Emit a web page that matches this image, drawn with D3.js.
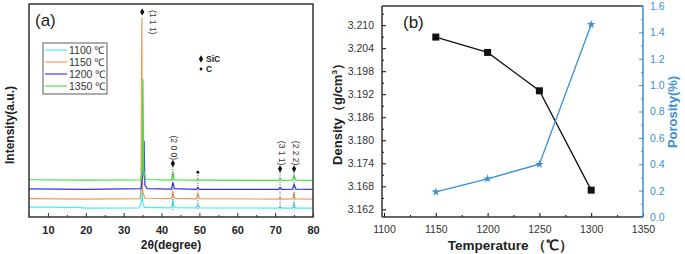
<!DOCTYPE html>
<html>
<head>
<meta charset="UTF-8">
<script src="https://d3js.org/d3.v7.min.js"></script>
<style>
  body { margin: 0; background: #fff; font-family: "Liberation Sans", Arial, sans-serif; }
  .tick text { font-family: "Liberation Sans", Arial, sans-serif; }
</style>
</head>
<body>
<div id="chart"></div>
<script>
// ---- panel (a): XRD patterns ----
const xrdSeries = ["1100 ℃", "1150 ℃", "1200 ℃", "1350 ℃"];
const tr1100 = [[5,4.6],[18,4.5],[20,4.2],[34.2,4.3],[34.6,7],[34.8,47.4],[35.0,7],[35.5,4.5],[42.5,4.3],[42.85,5.5],[43.0,7.9],[43.2,5.5],[43.6,4.4],[49.1,4.3],[49.6,5.6],[50.1,4.3],[70.9,4.2],[71.3,4.7],[71.7,4.2],[74.6,4.2],[74.95,6.1],[75.3,4.2],[80,4.2]];
const tr1150 = [[5,8.6],[20,8.4],[34.3,8.6],[34.6,12],[34.8,93.5],[35.0,12],[35.6,8.8],[42.5,8.6],[42.85,10],[43.0,11.2],[43.2,10],[43.6,8.7],[49.1,8.5],[49.6,10.7],[50.1,8.6],[70.9,8.4],[71.3,9.1],[71.7,8.4],[74.6,8.5],[74.95,11.2],[75.3,8.5],[80,8.4]];
const tr1200 = [[5,13.2],[20,13.0],[34.6,13.3],[34.85,17],[35.1,20],[35.4,35.8],[35.6,15],[36.2,13.3],[42.6,13.1],[43.0,16.3],[43.4,13.3],[49.2,13.0],[49.6,13.9],[50.0,13.0],[70.9,13.0],[71.3,13.9],[71.7,13.0],[74.6,13.1],[75.0,15.3],[75.5,13.1],[80,13.0]];
const tr1350 = [[5,17.5],[20,17.3],[34.6,17.4],[34.9,22],[35.1,64.7],[35.3,22],[35.8,17.6],[42.6,17.3],[43.0,20.9],[43.4,17.4],[49.2,17.3],[49.6,17.7],[50.0,17.3],[70.9,17.2],[71.3,17.9],[71.7,17.2],[74.6,17.3],[75.0,19.5],[75.5,17.3],[80,17.2]];
const xrdTicks = [10, 20, 30, 40, 50, 60, 70, 80];
const xrdMinor = [5, 15, 25, 35, 45, 55, 65, 75];

// peak markers: SiC (hkl) and carbon
const sicLabels = ["(1 1 1)", "(2 0 0)", "(3 1 1)", "(2 2 2)"];
const sicPos = [34.9, 43.0, 71.3, 75.0];
const sicMarkY = [96.3, 25.1, 22.6, 22.6];
const carbonPos = [49.6];
const carbonMarkY = [21.0];

// ---- panel (b): density and porosity ----
const temps = [1150, 1200, 1250, 1300];
const density = [3.2069, 3.2029, 3.1929, 3.1670];
const porosity = [0.19, 0.29, 0.40, 1.46];
const tempTicks = [1100, 1150, 1200, 1250, 1300, 1350];
const densityTicks = [3.162, 3.168, 3.174, 3.180, 3.186, 3.192, 3.198, 3.204, 3.210];
const porosityTicks = [0, 0.2, 0.4, 0.6, 0.8, 1.0, 1.2, 1.4, 1.6];

const W = 685, H = 254;
const svg = d3.select("#chart").append("svg").attr("width", W).attr("height", H);
const axisCol = "#333";
const font = "'Liberation Sans', Arial, sans-serif";

// ================= (a) =================
const A = {l: 29, r: 313, t: 4, b: 217};
const xa = d3.scaleLinear().domain([5, 80]).range([A.l, A.r]);
const ya = d3.scaleLinear().domain([0, 100]).range([A.b, A.t]);
const ga = svg.append("g");

// traces
const traceCols = ["#3ff0f0", "#f39a52", "#3434e6", "#3fe63f"];
const line = d3.line().x(d => xa(d[0])).y(d => ya(d[1]));
[tr1100, tr1150, tr1200, tr1350].forEach((tr, i) => {
  ga.append("path").datum(tr).attr("d", line)
    .attr("fill", "none").attr("stroke", traceCols[i]).attr("stroke-width", 1.2);
});

// dotted guide lines
sicPos.slice(1).forEach((p, i) => {
  ga.append("line").attr("x1", xa(p)).attr("x2", xa(p))
    .attr("y1", ya(sicMarkY[i + 1]) + 3).attr("y2", 210)
    .attr("stroke", "#222").attr("stroke-width", 0.8).attr("stroke-dasharray", "1,1.5");
});
carbonPos.forEach((p, i) => {
  ga.append("line").attr("x1", xa(p)).attr("x2", xa(p))
    .attr("y1", ya(carbonMarkY[i]) + 3).attr("y2", 210)
    .attr("stroke", "#222").attr("stroke-width", 0.8).attr("stroke-dasharray", "1,1.5");
});

const diamond = d3.symbol().type(d3.symbolDiamond).size(16);
sicPos.forEach((p, i) => {
  const cx = xa(p), cy = ya(sicMarkY[i]);
  ga.append("path").attr("d", diamond).attr("transform", `translate(${cx},${cy})`).attr("fill", "#111");
  const lx = i === 0 ? cx + 11 : cx + 1.5;
  const ly = i === 0 ? cy - 2 : cy - 28;
  ga.append("text").attr("transform", `translate(${lx},${ly}) rotate(90)`)
    .attr("font-family", font).attr("font-size", 8.5).attr("fill", "#333")
    .attr("dy", "0.35em").text(sicLabels[i]);
});
carbonPos.forEach((p, i) => {
  ga.append("circle").attr("cx", xa(p)).attr("cy", ya(carbonMarkY[i])).attr("r", 1.4).attr("fill", "#111");
});

// SiC / C key
ga.append("path").attr("d", diamond).attr("transform", "translate(201,59)").attr("fill", "#111");
ga.append("text").attr("x", 206).attr("y", 62).attr("font-family", font).attr("font-size", 8.5)
  .attr("font-weight", "bold").attr("fill", "#222").text("SiC");
ga.append("circle").attr("cx", 201).attr("cy", 69).attr("r", 1.4).attr("fill", "#111");
ga.append("text").attr("x", 206).attr("y", 72).attr("font-family", font).attr("font-size", 8.5)
  .attr("font-weight", "bold").attr("fill", "#222").text("C");

// legend
const lg = ga.append("g").attr("transform", "translate(43,43)");
lg.append("rect").attr("width", 64).attr("height", 51).attr("fill", "#fff")
  .attr("stroke", "#777").attr("stroke-width", 1.2);
xrdSeries.forEach((s, i) => {
  const y = 7 + i * 12;
  lg.append("line").attr("x1", 2).attr("x2", 24).attr("y1", y).attr("y2", y)
    .attr("stroke", traceCols[i]).attr("stroke-width", 1.5).attr("opacity", 0.75);
  lg.append("text").attr("x", 26).attr("y", y).attr("dy", "0.35em")
    .attr("font-family", font).attr("font-size", 10.5).attr("fill", "#333").text(s);
});

// frame + axes
ga.append("rect").attr("x", A.l).attr("y", A.t).attr("width", A.r - A.l).attr("height", A.b - A.t)
  .attr("fill", "none").attr("stroke", axisCol).attr("stroke-width", 1.5);
const axA = ga.append("g").attr("transform", `translate(0,${A.b})`)
  .call(d3.axisBottom(xa).tickValues(xrdTicks).tickSizeInner(-4).tickSizeOuter(0).tickPadding(9));
axA.select(".domain").remove();
axA.selectAll("text").attr("font-size", 11).attr("font-weight", "bold").attr("fill", "#222");
axA.selectAll("line").attr("stroke", axisCol);
const axAm = ga.append("g").attr("transform", `translate(0,${A.b})`)
  .call(d3.axisBottom(xa).tickValues(xrdMinor).tickSizeInner(-2).tickSizeOuter(0).tickFormat(""));
axAm.select(".domain").remove();
axAm.selectAll("line").attr("stroke", axisCol);

ga.append("text").attr("x", (A.l + A.r) / 2).attr("y", 249).attr("text-anchor", "middle")
  .attr("font-family", font).attr("font-size", 12).attr("font-weight", "bold").attr("fill", "#222")
  .text("2θ(degree)");
ga.append("text").attr("transform", "translate(14,125) rotate(-90)").attr("text-anchor", "middle")
  .attr("font-family", font).attr("font-size", 12).attr("font-weight", "bold").attr("fill", "#222")
  .text("Intensity(a.u.)");
ga.append("text").attr("x", 35).attr("y", 26).attr("font-family", font).attr("font-size", 17)
  .attr("fill", "#222").text("(a)");

// ================= (b) =================
const B = {l: 382, r: 643, t: 6, b: 217};
const xb = d3.scaleLinear().domain([1100, 1350]).range([B.l + 2, B.r]);
const yd = d3.scaleLinear().domain([3.160, 3.215]).range([B.b, B.t]);
const yp = d3.scaleLinear().domain([0, 1.6]).range([B.b, B.t]);
const gb = svg.append("g");
const blue = "#3a8fd6";

// axes
const axB = gb.append("g").attr("transform", `translate(0,${B.b})`)
  .call(d3.axisBottom(xb).tickValues(tempTicks).tickSizeInner(-4).tickSizeOuter(0).tickPadding(9).tickFormat(d3.format("d")));
axB.select(".domain").remove();
axB.selectAll("text").attr("font-size", 10.5).attr("fill", "#333");
const axBm = gb.append("g").attr("transform", `translate(0,${B.b})`)
  .call(d3.axisBottom(xb).tickValues([1125, 1175, 1225, 1275, 1325]).tickSizeInner(-2).tickSizeOuter(0).tickFormat(""));
axBm.select(".domain").remove();

const axD = gb.append("g").attr("transform", `translate(${B.l},0)`)
  .call(d3.axisLeft(yd).tickValues(densityTicks).tickSizeInner(-4).tickSizeOuter(0).tickPadding(8).tickFormat(d3.format(".3f")));
axD.select(".domain").remove();
axD.selectAll("text").attr("font-size", 10.5).attr("fill", "#333");
const axDm = gb.append("g").attr("transform", `translate(${B.l},0)`)
  .call(d3.axisLeft(yd).tickValues(densityTicks.map(v => v + 0.003)).tickSizeInner(-2).tickSizeOuter(0).tickFormat(""));
axDm.select(".domain").remove();

gb.append("line").attr("x1", B.l).attr("x2", B.r).attr("y1", B.t).attr("y2", B.t).attr("stroke", axisCol).attr("stroke-width", 1.5);
gb.append("line").attr("x1", B.l).attr("x2", B.r).attr("y1", B.b).attr("y2", B.b).attr("stroke", axisCol).attr("stroke-width", 1.5);
gb.append("line").attr("x1", B.l).attr("x2", B.l).attr("y1", B.t).attr("y2", B.b).attr("stroke", axisCol).attr("stroke-width", 1.5);

const axP = gb.append("g").attr("transform", `translate(${B.r},0)`)
  .call(d3.axisRight(yp).tickValues(porosityTicks).tickSizeInner(-4).tickSizeOuter(0).tickPadding(7).tickFormat(d3.format(".1f")));
axP.select(".domain").remove();
axP.selectAll("text").attr("font-size", 10.5).attr("fill", blue);
axP.selectAll("line").attr("stroke", blue);
const axPm = gb.append("g").attr("transform", `translate(${B.r},0)`)
  .call(d3.axisRight(yp).tickValues(porosityTicks.slice(0, -1).map(v => v + 0.1)).tickSizeInner(-2).tickSizeOuter(0).tickFormat(""));
axPm.select(".domain").remove();
axPm.selectAll("line").attr("stroke", blue);
gb.append("line").attr("x1", B.r).attr("x2", B.r).attr("y1", B.t).attr("y2", B.b).attr("stroke", blue).attr("stroke-width", 1.5);

// series
gb.append("path").datum(temps).attr("fill", "none").attr("stroke", "#111").attr("stroke-width", 1.3)
  .attr("d", d3.line().x(t => xb(t)).y((t, i) => yd(density[i])));
gb.selectAll(".sq").data(temps).enter().append("rect")
  .attr("x", t => xb(t) - 3.5).attr("y", (t, i) => yd(density[i]) - 3.5)
  .attr("width", 7).attr("height", 7).attr("fill", "#111");
gb.append("path").datum(temps).attr("fill", "none").attr("stroke", blue).attr("stroke-width", 1.3)
  .attr("d", d3.line().x(t => xb(t)).y((t, i) => yp(porosity[i])));
const star = d3.symbol().type(d3.symbolStar).size(22);
gb.selectAll(".st").data(temps).enter().append("path").attr("d", star)
  .attr("transform", (t, i) => `translate(${xb(t)},${yp(porosity[i])})`).attr("fill", blue);

// labels
gb.append("text").attr("x", 403).attr("y", 28).attr("font-family", font).attr("font-size", 17)
  .attr("fill", "#222").text("(b)");
gb.append("text").attr("x", (B.l + B.r) / 2 - 2).attr("y", 250).attr("text-anchor", "middle")
  .attr("font-family", font).attr("font-size", 13.5).attr("font-weight", "bold").attr("fill", "#222")
  .text("Temperature （℃）");
const dl = gb.append("text").attr("transform", "translate(342,111) rotate(-90)").attr("text-anchor", "middle")
  .attr("font-family", font).attr("font-size", 13).attr("font-weight", "bold").attr("fill", "#222");
dl.append("tspan").text("Density（g/cm");
dl.append("tspan").attr("font-size", 8).attr("dy", -5).text("3");
dl.append("tspan").attr("dy", 5).text("）");
gb.append("text").attr("transform", "translate(677,112) rotate(-90)").attr("text-anchor", "middle")
  .attr("font-family", font).attr("font-size", 13).attr("font-weight", "bold").attr("fill", blue)
  .text("Porosity(%)");
</script>
</body>
</html>
